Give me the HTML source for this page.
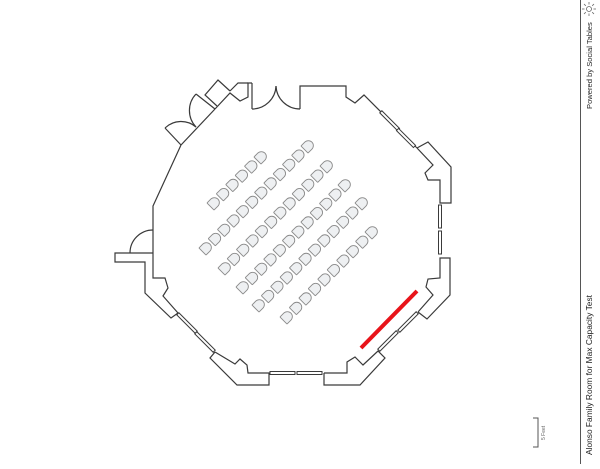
<!DOCTYPE html>
<html><head><style>
body{margin:0;background:#fff;width:600px;height:464px;overflow:hidden;font-family:"Liberation Sans",sans-serif}
</style></head><body>
<svg width="600" height="464" viewBox="0 0 600 464" xmlns="http://www.w3.org/2000/svg">
<g fill="none" stroke="#3a3a3a" stroke-width="1.2" stroke-linejoin="miter">
<polyline points="300,109 300,86 346,86 346,97 355,103 364,95 417,148"/>
<line x1="252" y1="83" x2="252" y2="109"/>
<path d="M252,109 A24,24 0 0 0 276,86"/>
<path d="M276,86 A24,24 0 0 0 300,109"/>
<polyline points="252,83 248,83 248,97 240,101 230,93 215,109"/>
<polyline points="248,83 238,83 230,91"/>
<polyline points="217,106 205,95 218,80 230,91"/>
<line x1="215" y1="109" x2="196" y2="94"/>
<path d="M196,94 A24,24 0 0 0 196,127"/>
<line x1="181" y1="145" x2="165" y2="128"/>
<path d="M165,128 A23,23 0 0 1 196,127"/>
<line x1="181" y1="145" x2="215" y2="109"/>
<polyline points="181,145 153,206 153,278 165,278 168,288 163,296 178,313"/>
<polyline points="153,253 115,253 115,262 145,262 145,293 171,318 178,313"/>
<path d="M130,253 A23,23 0 0 1 153,230"/>
<polyline points="215,352 210,358 237,385 269,385 269,373 248,373 247,365 240,359 235,364 215,352"/>
<polyline points="324,373 324,385 360,385 385,358 378,351 363,365 355,357 347,362 347,373 324,373"/>
<polyline points="418,312 427,319 450,295 450,258 440,258 440,278 428,279 426,287 433,295 418,312"/>
<polyline points="417,148 428,142 451,167 451,203 440,203 440,180 428,180 425,173 433,165 417,148"/>
</g>
<g fill="#fff" stroke="#3a3a3a" stroke-width="1">
<rect x="-13" y="-1.5" width="25" height="3" transform="translate(390,121) rotate(45)"/>
<rect x="-12" y="-1.5" width="24" height="3" transform="translate(406,138) rotate(45)"/>
<rect x="438.5" y="205" width="3" height="23"/>
<rect x="438.5" y="231" width="3" height="23"/>
<rect x="-13" y="-1.5" width="26" height="3" transform="translate(408,322) rotate(-45)"/>
<rect x="-13" y="-1.5" width="26" height="3" transform="translate(388,341) rotate(-45)"/>
<rect x="270" y="371.5" width="25" height="3"/>
<rect x="297" y="371.5" width="25" height="3"/>
<rect x="-13" y="-1.5" width="26" height="3" transform="translate(187,323) rotate(45)"/>
<rect x="-13" y="-1.5" width="26" height="3" transform="translate(205,342) rotate(45)"/>
</g>
<line x1="361" y1="348" x2="417" y2="291" stroke="#e8141a" stroke-width="4"/>
<g id="chairs" fill="#eef0f2" stroke="#8a8a8a" stroke-width="0.9"></g>
<g stroke="#555" stroke-width="1" fill="none">
<line x1="580.5" y1="0" x2="580.5" y2="464"/>
<polyline points="533,418 538,418 538,447 533,447"/>
</g>
<text transform="translate(545,440) rotate(-90)" font-size="5" fill="#666">5 Feet</text>
<text transform="translate(592,455) rotate(-90)" font-size="8.4" fill="#222">Alonso Family Room for Max Capacity Test</text>
<text transform="translate(592,109) rotate(-90)" font-size="7.6" fill="#222">Powered by Social Tables</text>
<g stroke="#666" stroke-width="0.8" fill="none">
<circle cx="589" cy="9" r="2.5"/>
<line x1="589" y1="2" x2="589" y2="4.5"/><line x1="589" y1="13.5" x2="589" y2="16"/>
<line x1="582" y1="9" x2="584.5" y2="9"/><line x1="593.5" y1="9" x2="596" y2="9"/>
<line x1="584" y1="4" x2="585.8" y2="5.8"/><line x1="592.2" y1="12.2" x2="594" y2="14"/>
<line x1="594" y1="4" x2="592.2" y2="5.8"/><line x1="585.8" y1="12.2" x2="584" y2="14"/>
</g>
</svg>
<script>
var rows=[[214,203,261,157,6],[206,248,308,146,12],[225,268,327,166,12],[243,287,345,185,12],[259,305,362,203,12],[287,317,372,232,10]];
var g=document.getElementById('chairs'),h='';
rows.forEach(function(r){for(var i=0;i<r[4];i++){var t=i/(r[4]-1),x=r[0]+(r[2]-r[0])*t,y=r[1]+(r[3]-r[1])*t;
h+='<path transform="translate('+x.toFixed(1)+','+y.toFixed(1)+') rotate(45)" d="M-5,4.5 L-5,-0.5 A5,5 0 0 1 5,-0.5 L5,4.5 Q5,5 4.5,5 L-4.5,5 Q-5,5 -5,4.5 Z"/>';}});
g.innerHTML=h;
</script>
</body></html>
